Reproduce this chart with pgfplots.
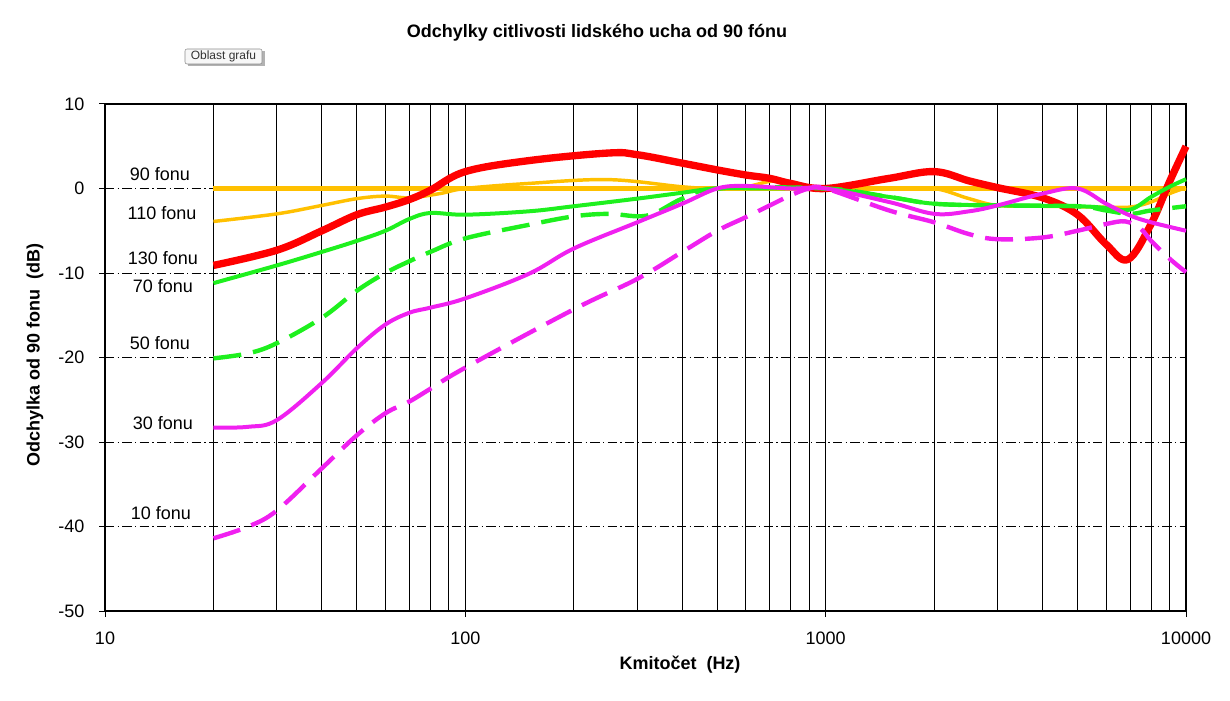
\documentclass[border=0pt]{standalone}
\usepackage{fontspec}
\setmainfont{Liberation Sans}
\usepackage{pgfplots}
\pgfplotsset{compat=1.18}
\definecolor{corange}{HTML}{FFC000}
\definecolor{cred}{HTML}{FF0000}
\definecolor{cgreen}{HTML}{1EF01E}
\definecolor{cmag}{HTML}{F020F0}
\begin{document}
\begin{tikzpicture}[x=0.75pt,y=0.75pt]
\path[use as bounding box] (0,0) rectangle (1230,700);
\begin{axis}[
  at={(78.75pt,66.75pt)}, anchor=south west,
  scale only axis, width=810.75pt, height=380.25pt,
  xmode=log, xmin=10, xmax=10000, ymin=-50, ymax=10,
  xtick={10,100,1000,10000}, xticklabels={10,100,1000,10000},
  minor xtick={20,30,40,50,60,70,80,90,200,300,400,500,600,700,800,900,2000,3000,4000,5000,6000,7000,8000,9000},
  ytick={-50,-40,-30,-20,-10,0,10},
  yticklabels={-50,-40,-30,-20,-10,0,10},
  tick pos=left, tick align=outside,
  major tick length=4.5pt, minor tick length=0pt,
  every tick/.style={black, line width=0.75pt},
  axis line style={black, line width=1.6pt},
  xmajorgrids, xminorgrids, ymajorgrids,
  major grid style={}, minor grid style={},
  x grid style={black, solid, line width=0.75pt},
  y grid style={black, line width=0.75pt, dash pattern=on 7pt off 2.5pt on 1pt off 2.5pt},
  ticklabel style={font=\fontsize{13.5}{15}\selectfont},
  xticklabel style={yshift=-8pt},
  yticklabel style={xshift=-7.5pt},
  /pgf/number format/assume math mode=true,
  clip=false,
  every axis plot/.append style={smooth, tension=0.6, line join=round},
]
% 90 fonu
\addplot[corange, line width=3.2pt, sharp plot] coordinates {(20,0) (10000,0)};
% 110 fonu
\addplot[corange, line width=2.6pt] coordinates {
(20,-3.9) (30,-3.0) (40,-2.0) (50,-1.2) (60,-0.9) (70,-1.1) (85,-0.6) (100,0) (150,0.6) (250,1.05) (400,0.2) (500,0) (600,0.2) (720,0.9) (850,0.5) (1000,0) (1500,0) (2000,0) (2500,-1.2) (3000,-2.0) (4000,-2.1) (6000,-2.2) (7000,-2.2) (8000,-1.6) (9000,-0.6) (10000,0.1)};
% 130 fonu
\addplot[cred, line width=5.5pt] coordinates {
(20,-9.1) (30,-7.3) (40,-5.0) (50,-3.1) (60,-2.2) (70,-1.3) (80,-0.2) (100,2.0) (150,3.3) (250,4.2) (300,4.0) (400,3.0) (500,2.2) (600,1.6) (700,1.2) (800,0.6) (1000,0) (1500,1.2) (2000,2.0) (2500,0.9) (3000,0.1) (4000,-1.1) (5000,-3.1) (6000,-6.6) (6900,-8.4) (8000,-4.2) (9000,0.8) (10000,5.0)};
% 70 fonu
\addplot[cgreen, line width=3pt] coordinates {
(20,-11.2) (30,-9.1) (40,-7.5) (50,-6.2) (60,-5.0) (70,-3.6) (80,-2.9) (100,-3.1) (150,-2.7) (200,-2.1) (300,-1.2) (400,-0.5) (500,0) (700,0) (1000,0) (1500,-1.0) (2000,-1.8) (3000,-2.0) (5000,-2.1) (6000,-2.3) (7000,-2.5) (8000,-1.0) (9000,0.2) (10000,1.1)};
% 50 fonu
\addplot[cgreen, line width=3.3pt, dash pattern=on 21pt off 9pt] coordinates {
(20,-20.1) (25,-19.5) (30,-18.3) (40,-15.3) (50,-12.1) (60,-10.0) (70,-8.6) (80,-7.5) (100,-5.9) (150,-4.3) (200,-3.3) (250,-3.0) (320,-3.2) (400,-1.2) (500,0) (1000,0) (1500,-1.0) (2000,-1.8) (3000,-2.0) (5000,-2.1) (6000,-2.6) (7000,-3.0) (8000,-2.6) (10000,-2.1)};
% 30 fonu
\addplot[cmag, line width=3pt] coordinates {
(20,-28.3) (25,-28.2) (30,-27.4) (40,-23.0) (50,-18.9) (60,-16.1) (70,-14.7) (80,-14.1) (100,-13.0) (150,-10.1) (200,-7.1) (300,-4.0) (400,-1.8) (500,0) (600,0.3) (800,0) (1000,0) (1500,-1.6) (2000,-3.0) (2500,-2.7) (3000,-2.0) (4000,-0.6) (5000,0) (6000,-1.8) (7000,-3.2) (8000,-4.0) (10000,-5.0)};
% 10 fonu
\addplot[cmag, line width=3.3pt, dash pattern=on 21pt off 9pt] coordinates {
(20,-41.4) (25,-40.0) (30,-38.1) (40,-33.1) (50,-29.2) (60,-26.6) (70,-25.2) (80,-23.7) (100,-21.2) (200,-14.3) (300,-10.7) (400,-7.5) (500,-5.0) (600,-3.4) (700,-2.0) (800,-0.8) (900,0) (1000,0) (1500,-2.6) (2000,-4.0) (2500,-5.4) (3000,-6.0) (4000,-5.8) (5000,-5.0) (6000,-4.2) (6800,-3.9) (7500,-4.8) (8000,-6.2) (9000,-8.3) (10000,-9.9)};
\end{axis}
\tikzset{lbl/.style={font=\fontsize{13.5}{15}\selectfont, inner sep=0pt}}
\node[lbl] at (160,526) {90 fonu};
\node[lbl] at (162,487) {110 fonu};
\node[lbl] at (163,442) {130 fonu};
\node[lbl] at (163,414) {70 fonu};
\node[lbl] at (160,357) {50 fonu};
\node[lbl] at (163,277) {30 fonu};
\node[lbl] at (161,187) {10 fonu};
\node[font=\bfseries\fontsize{13.5}{15}\selectfont] at (597,667) {Odchylky citlivosti lidského ucha od 90 fónu};
\node[font=\bfseries\fontsize{13.5}{15}\selectfont] at (680,35) {Kmitočet~~(Hz)};
\node[font=\bfseries\fontsize{13.5}{15}\selectfont, rotate=90] at (35,345) {Odchylka od 90 fonu~~(dB)};
\fill[black!30] (188,634) rectangle (265,649);
\draw[black!45, fill=black!3, rounded corners=1.5pt] (185,636) rectangle (262,651);
\node[font=\fontsize{9}{10}\selectfont, text=black!80] at (223.5,643.5) {Oblast grafu};
\end{tikzpicture}
\end{document}
